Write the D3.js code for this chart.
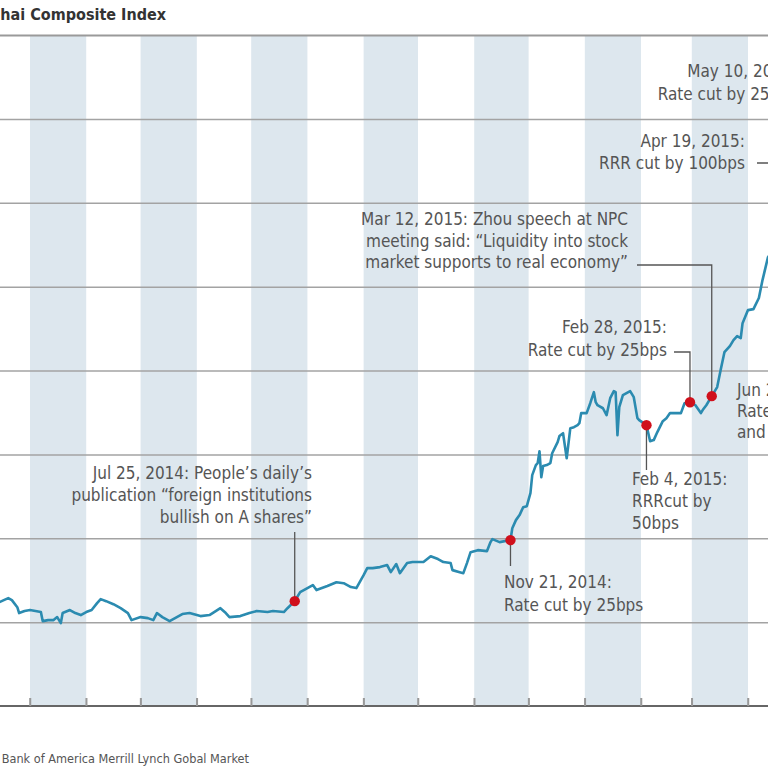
<!DOCTYPE html>
<html><head><meta charset="utf-8">
<script src="https://cdn.jsdelivr.net/npm/d3@7"></script>
<style>
body{margin:0;background:#fff}
svg{display:block}
text{font-family:"Liberation Sans Narrow","DejaVu Sans Condensed","Roboto Condensed",Roboto,sans-serif}
</style></head><body>
<svg id="chart" width="768" height="768"></svg>
<script>
// ---- data ----
const dates = ["2014-02-11","2014-02-12","2014-02-17","2014-02-19","2014-02-22","2014-02-23","2014-02-26","2014-03-01","2014-03-04","2014-03-07","2014-03-08","2014-03-11","2014-03-14","2014-03-16","2014-03-18","2014-03-19","2014-03-23","2014-03-26","2014-03-29","2014-04-01","2014-04-04","2014-04-07","2014-04-09","2014-04-12","2014-04-16","2014-04-20","2014-04-24","2014-04-26","2014-05-01","2014-05-05","2014-05-08","2014-05-10","2014-05-13","2014-05-17","2014-05-21","2014-05-24","2014-05-28","2014-06-03","2014-06-08","2014-06-14","2014-06-17","2014-06-19","2014-06-25","2014-06-30","2014-07-04","2014-07-10","2014-07-13","2014-07-19","2014-07-21","2014-07-25","2014-07-28","2014-08-01","2014-08-04","2014-08-06","2014-08-12","2014-08-17","2014-08-21","2014-08-25","2014-08-28","2014-09-01","2014-09-03","2014-09-06","2014-09-10","2014-09-14","2014-09-16","2014-09-19","2014-09-21","2014-09-25","2014-09-28","2014-10-04","2014-10-08","2014-10-12","2014-10-15","2014-10-19","2014-10-20","2014-10-24","2014-10-26","2014-10-28","2014-10-30","2014-11-03","2014-11-08","2014-11-10","2014-11-11","2014-11-15","2014-11-21","2014-11-22","2014-11-24","2014-11-26","2014-11-28","2014-11-30","2014-12-02","2014-12-03","2014-12-05","2014-12-06","2014-12-07","2014-12-08","2014-12-09","2014-12-11","2014-12-13","2014-12-14","2014-12-17","2014-12-18","2014-12-20","2014-12-22","2014-12-24","2014-12-26","2014-12-28","2014-12-29","2014-12-30","2015-01-02","2015-01-04","2015-01-06","2015-01-07","2015-01-08","2015-01-11","2015-01-13","2015-01-15","2015-01-17","2015-01-18","2015-01-19","2015-01-20","2015-01-22","2015-01-24","2015-01-26","2015-01-28","2015-01-30","2015-01-31","2015-02-04","2015-02-06","2015-02-08","2015-02-10","2015-02-13","2015-02-15","2015-02-17","2015-02-23","2015-02-25","2015-02-28","2015-03-03","2015-03-06","2015-03-07","2015-03-09","2015-03-12","2015-03-15","2015-03-17","2015-03-19","2015-03-22","2015-03-24","2015-03-26","2015-03-28","2015-03-29","2015-04-01","2015-04-04","2015-04-07","2015-04-09","2015-04-12","2015-04-15"];
const values = [2113,2119,2143,2131,2089,2054,2066,2072,2066,2060,2006,2012,2012,2030,1994,2054,2072,2054,2042,2060,2072,2113,2137,2125,2107,2083,2054,2012,2030,2024,2012,2054,2030,2006,2030,2048,2054,2036,2042,2083,2054,2030,2036,2054,2066,2060,2066,2060,2083,2125,2179,2203,2221,2191,2215,2238,2232,2209,2203,2280,2322,2322,2328,2340,2298,2346,2292,2352,2358,2358,2393,2376,2358,2352,2310,2298,2292,2352,2417,2429,2423,2477,2495,2477,2489,2560,2608,2638,2685,2691,2769,2876,2936,2948,3019,2864,2930,2936,2948,3007,3073,3109,3126,2977,3156,3162,3174,3186,3246,3246,3305,3371,3311,3293,3275,3234,3335,3377,3371,3115,3281,3353,3365,3377,3341,3216,3204,3174,3079,3085,3133,3198,3216,3246,3246,3305,3311,3293,3246,3264,3293,3347,3401,3508,3609,3645,3681,3705,3693,3782,3860,3866,3932,4039,4175,4218];
const yTicks = [2000,2500,3000,3500,4000,4500,5000,5500];
const eventDates = ["2014-07-25","2014-11-21","2015-02-04","2015-02-28","2015-03-12","2015-04-19","2015-05-10","2015-06-27"];
const eventValues = [2125,2489,3174,3311,3347,4287,4205,4192];
const eventLabels = [
  ["Jul 25, 2014: People’s daily’s","publication “foreign institutions","bullish on A shares”"],
  ["Nov 21, 2014:","Rate cut by 25bps"],
  ["Feb 4, 2015:","RRRcut by","50bps"],
  ["Feb 28, 2015:","Rate cut by 25bps"],
  ["Mar 12, 2015: Zhou speech at NPC","meeting said: “Liquidity into stock","market supports to real economy”"],
  ["Apr 19, 2015:","RRR cut by 100bps"],
  ["May 10, 2015:","Rate cut by 25bps"],
  ["Jun 27, 2015:","Rate cut by 25bps","and RRR cut by 50bps"]
];
const titleText = "Shanghai Composite Index";
const sourceText = "Source: Wind, Bank of America Merrill Lynch Gobal Market";

// ---- layout (label placement, not data) ----
const labelLayout = [
  {x:312, y:479, anchor:"end",   lead:22, type:"up",    ly:532},
  {x:504, y:588, anchor:"start", lead:23, type:"down",  ly:566},
  {x:632, y:485, anchor:"start", lead:22, type:"down",  ly:470},
  {x:667, y:333, anchor:"end",   lead:23, type:"elbow", lx:674, ly:352},
  {x:628, y:225, anchor:"end",   lead:21.5, type:"elbow", lx:637, ly:265},
  {x:745, y:147, anchor:"end",   lead:21.5, type:"elbow", lx:757, ly:163},
  {x:797, y:77,  anchor:"end",   lead:23, type:"elbow", lx:809, ly:95},
  {x:737, y:396, anchor:"start", lead:21, type:"none"}
];

const parse = d3.timeParse("%Y-%m-%d");
const series = dates.map((d,i)=>({date:parse(d), value:values[i]}));
const events = eventDates.map((d,i)=>({date:parse(d), value:eventValues[i], label:eventLabels[i], lay:labelLayout[i]}));

const W = 768, H = 768;
const svg = d3.select("#chart");
const x = d3.scaleTime().domain([new Date(2014,2,1), new Date(2015,3,1)]).range([30,748]);
const y = d3.scaleLinear().domain([1500,5500]).range([706,35]);

// month bands
const months = d3.timeMonth.range(new Date(2014,0,1), new Date(2015,8,1));
svg.append("g").selectAll("rect")
  .data(months.filter((m,i)=>i%2===0))
  .join("rect")
  .attr("x", d=>x(d))
  .attr("width", d=>x(d3.timeMonth.offset(d,1))-x(d))
  .attr("y", y(5500))
  .attr("height", y(1500)-y(5500))
  .attr("fill", "#dde7ee");

// gridlines
const grid = svg.append("g").attr("transform","translate(-20,0)")
  .call(d3.axisLeft(y).tickValues(yTicks).tickSize(-(W+60)).tickFormat(""));
grid.select(".domain").remove();
grid.selectAll("line").attr("stroke","#a3a3a3").attr("stroke-width",1.5);
grid.selectAll("line").filter(d=>d===5500).attr("stroke","#9a9a9a").attr("stroke-width",2);

// x axis
const xa = svg.append("g").attr("transform",`translate(0,${y(1500)})`)
  .call(d3.axisBottom(x).ticks(d3.timeMonth.every(1)).tickSize(-8).tickSizeOuter(0).tickFormat(""));
xa.select(".domain").attr("stroke","#666").attr("stroke-width",2).attr("d",`M-20,0H${W+60}`);
xa.selectAll(".tick line").attr("stroke","#999").attr("stroke-width",1.5);
xa.selectAll(".tick2").data(months).join("line")
  .attr("x1",d=>x(d)).attr("x2",d=>x(d)).attr("y1",0).attr("y2",-8)
  .attr("stroke","#999").attr("stroke-width",1.5);

// line
svg.append("path").datum(series)
  .attr("fill","none").attr("stroke","#2b8bb0").attr("stroke-width",2.6)
  .attr("stroke-linejoin","round")
  .attr("d", d3.line().x(d=>x(d.date)).y(d=>y(d.value)));

// annotations
const ann = svg.append("g");
events.forEach(e=>{
  const px = x(e.date), py = y(e.value), L = e.lay;
  let path = null;
  if (L.type==="up" || L.type==="down") path = `M${px},${py}V${L.ly}`;
  if (L.type==="elbow") path = `M${L.lx},${L.ly}H${px}V${py}`;
  if (path) ann.append("path").attr("d",path).attr("fill","none").attr("stroke","#555").attr("stroke-width",1.3);
  const t = ann.append("text").attr("text-anchor",L.anchor).attr("font-size",17).attr("fill","#555");
  e.label.forEach((s,i)=>t.append("tspan").attr("x",L.x).attr("y",L.y+i*L.lead).text(s));
});
events.forEach(e=>{
  ann.append("circle").attr("cx",x(e.date)).attr("cy",y(e.value)).attr("r",5.2).attr("fill","#d0101c");
});

// title and source
svg.append("text").attr("x",166).attr("y",20).attr("text-anchor","end")
  .attr("font-size",16).attr("font-weight",600).attr("fill","#333").text(titleText);
svg.append("text").attr("x",249).attr("y",763).attr("text-anchor","end")
  .attr("font-size",12.6).attr("fill","#555").text(sourceText);
</script>
</body></html>
